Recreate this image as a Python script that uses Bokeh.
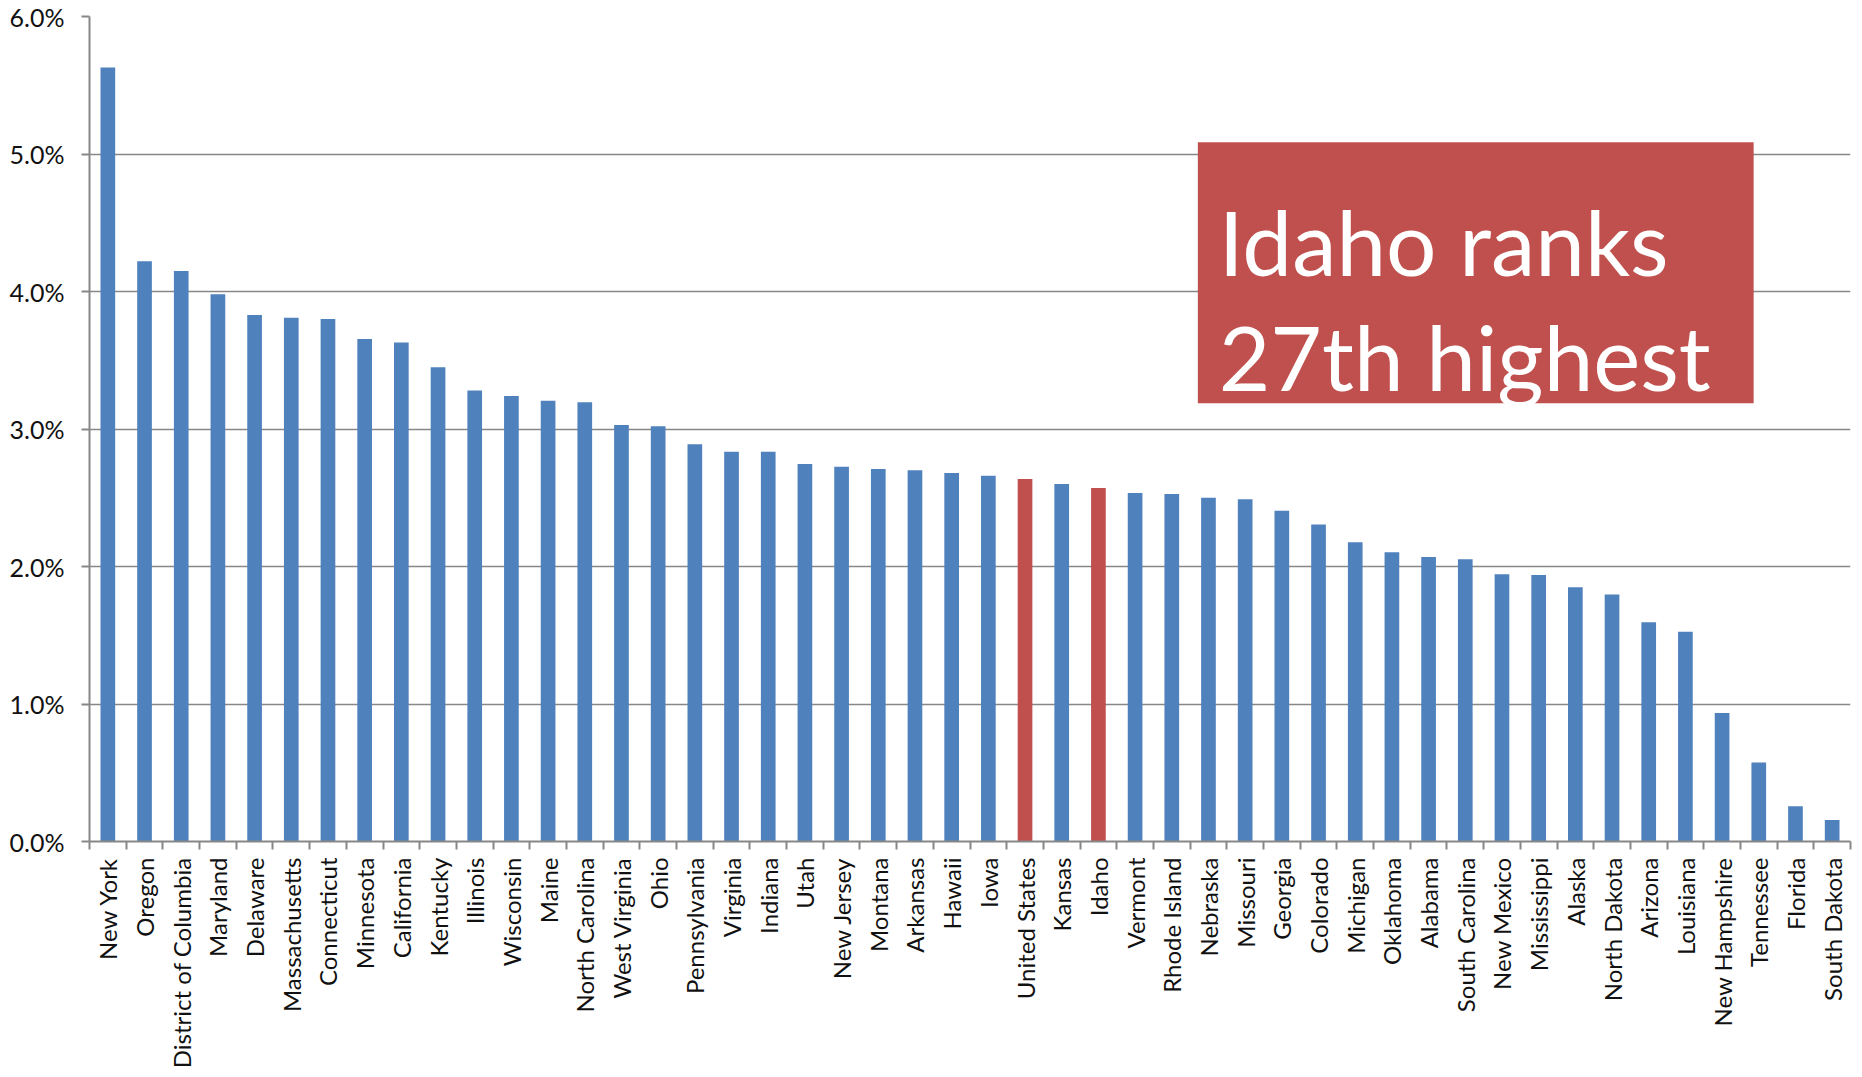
from bokeh.plotting import figure
from bokeh.models import FixedTicker, PrintfTickFormatter, BoxAnnotation, Label, Range1d, ColumnDataSource
from bokeh.embed import file_html
from bokeh.resources import INLINE
import math

states = ["New York", "Oregon", "District of Columbia", "Maryland", "Delaware", "Massachusetts",
          "Connecticut", "Minnesota", "California", "Kentucky", "Illinois", "Wisconsin", "Maine",
          "North Carolina", "West Virginia", "Ohio", "Pennsylvania", "Virginia", "Indiana", "Utah",
          "New Jersey", "Montana", "Arkansas", "Hawaii", "Iowa", "United States", "Kansas", "Idaho",
          "Vermont", "Rhode Island", "Nebraska", "Missouri", "Georgia", "Colorado", "Michigan",
          "Oklahoma", "Alabama", "South Carolina", "New Mexico", "Mississippi", "Alaska",
          "North Dakota", "Arizona", "Louisiana", "New Hampshire", "Tennessee", "Florida", "South Dakota"]
values = [5.63, 4.22, 4.15, 3.98, 3.83, 3.81, 3.80, 3.655, 3.63, 3.45, 3.28, 3.24, 3.205,
          3.195, 3.03, 3.02, 2.89, 2.835, 2.835, 2.745, 2.725, 2.71, 2.70, 2.68, 2.66, 2.636,
          2.60, 2.571, 2.535, 2.527, 2.50, 2.49, 2.405, 2.305, 2.177, 2.104, 2.07, 2.052, 1.943,
          1.938, 1.85, 1.797, 1.595, 1.525, 0.935, 0.575, 0.257, 0.156]
highlight = ["United States", "Idaho"]
y_ticks = [0, 1, 2, 3, 4, 5, 6]

BLUE = "#4F81BD"
RED = "#C0504D"
GRAY = "#878787"

n = len(states)
xs = list(range(n))
colors = [RED if s in highlight else BLUE for s in states]
src = ColumnDataSource(dict(x=xs, top=values, color=colors, name=states))

p = figure(width=1854, height=1071, output_backend="svg", toolbar_location=None,
           x_range=Range1d(-0.5, n - 0.5), y_range=Range1d(0, 6),
           min_border_left=89, min_border_top=16, min_border_bottom=228, min_border_right=4)
p.outline_line_color = None
p.background_fill_color = "white"

p.vbar(x="x", top="top", width=0.4, color="color", source=src, line_color=None)

# y axis
p.yaxis.ticker = FixedTicker(ticks=y_ticks, minor_ticks=[])
p.yaxis.formatter = PrintfTickFormatter(format="%.1f%%")
p.yaxis.axis_line_color = GRAY
p.yaxis.axis_line_width = 2
p.yaxis.major_tick_line_color = GRAY
p.yaxis.major_tick_line_width = 2
p.yaxis.major_tick_out = 8
p.yaxis.major_tick_in = 0
p.yaxis.minor_tick_line_color = None
p.yaxis.major_label_standoff = 17
p.yaxis.major_label_text_font = "Lato"
p.yaxis.major_label_text_font_size = "25px"
p.yaxis.major_label_text_color = "#111111"

# x axis: labels at centres, tick marks at category boundaries
p.xaxis.ticker = FixedTicker(ticks=xs, minor_ticks=[i - 0.5 for i in range(n + 1)])
p.xaxis.major_label_overrides = {i: s for i, s in enumerate(states)}
p.xaxis.major_label_orientation = math.pi / 2
p.xaxis.axis_line_color = GRAY
p.xaxis.axis_line_width = 2
p.xaxis.major_tick_line_color = None
p.xaxis.major_tick_out = 0
p.xaxis.major_tick_in = 0
p.xaxis.minor_tick_line_color = GRAY
p.xaxis.minor_tick_line_width = 2
p.xaxis.minor_tick_out = 8
p.xaxis.minor_tick_in = 0
p.xaxis.major_label_standoff = 8
p.xaxis.major_label_text_font = "Lato"
p.xaxis.major_label_text_font_size = "24px"
p.xaxis.major_label_text_color = "#111111"

p.xgrid.grid_line_color = None
p.ygrid.grid_line_color = GRAY
p.ygrid.grid_line_width = 1.5

# annotation box
box = BoxAnnotation(left=29.71, right=44.86, top=5.086, bottom=3.188,
                    fill_color=RED, fill_alpha=1.0, line_color=None)
p.add_layout(box)
for txt, yy in [("Idaho ranks", 4.366), ("27th highest", 3.530)]:
    p.add_layout(Label(x=30.28, y=yy, text=txt, text_font="Lato", text_font_size="89px",
                       text_color="white", text_baseline="alphabetic", text_align="left"))

open("out.html", "w").write(file_html(p, INLINE))
